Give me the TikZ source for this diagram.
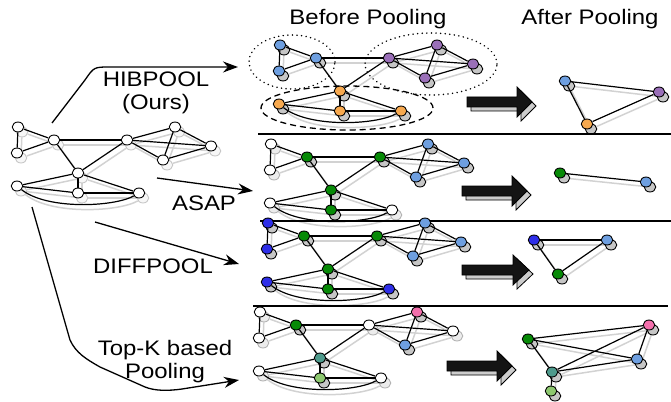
\documentclass[tikz,border=0pt]{standalone}
\usepackage{fontspec}
\usepackage{graphicx}
\setmainfont{Liberation Sans}
\usetikzlibrary{shapes.geometric,arrows.meta}
\pgfdeclarelayer{shedge}
\pgfdeclarelayer{shnode}
\pgfdeclarelayer{edge}
\pgfsetlayers{shedge,shnode,edge,main}
\definecolor{cLB}{HTML}{6E9FE0}
\definecolor{cP}{HTML}{9A6FB8}
\definecolor{cO}{HTML}{F7A94F}
\definecolor{cG}{HTML}{078A07}
\definecolor{cDB}{HTML}{2E2EE8}
\definecolor{cPK}{HTML}{F36FAC}
\definecolor{cT}{HTML}{4E9A8C}
\definecolor{cLG}{HTML}{8DC86F}
\newcommand\sx[1]{\scalebox{1.14}[1]{#1}}
\def\tx{{18,17,54,127,175,211,163,78,17,78,139}}
\def\ty{{127,153,140,140,127,146,160,173,186,193,193}}
\def\tedges{1/2,1/3,2/3,3/4,3/8,4/8,4/5,4/6,4/7,5/6,5/7,6/7,8/9,8/10,8/11,9/10,10/11}
\tikzset{
  gnode/.style={ellipse,draw=black,line width=0.9pt,minimum width=11.5pt,minimum height=10pt,inner sep=0pt},
  gedge/.style={draw=black,line width=1.2pt},
  shline/.style={draw=gray!35,line width=1.5pt},
  lbl/.style={font=\fontsize{21}{23}\selectfont,align=center,inner sep=0pt},
  arr/.style={draw=black,line width=1.3pt,-{Stealth[length=15pt,width=11pt]}},
  sep/.style={draw=black,line width=1.1pt}
}
\newcommand\tgraph[2]{%
  \foreach \i/\c/\sf/\sd in {#2}{%
    \pgfmathsetmacro\x{\tx[\i-1]}%
    \pgfmathsetmacro\y{\ty[\i-1]}%
    \begin{pgfonlayer}{shnode}
      \node[gnode,fill=\sf,draw=\sd] (#1s\i) at (\x+4,\y+5) {};
    \end{pgfonlayer}
    \node[gnode,fill=\c] (#1\i) at (\x,\y) {};
  }%
  \begin{pgfonlayer}{shedge}
    \foreach \a/\b in \tedges {\draw[shline] (#1s\a) -- (#1s\b);}
    \draw[shline] (#1s9) .. controls +(30,24) and +(-25,14) .. (#1s11);
  \end{pgfonlayer}
  \begin{pgfonlayer}{edge}
    \foreach \a/\b in \tedges {\draw[gedge] (#1\a) -- (#1\b);}
    \draw[gedge] (#19) .. controls +(30,24) and +(-25,14) .. (#111);
  \end{pgfonlayer}
}
\newcommand\agraph[3]{%
  \foreach \i/\x/\y/\c in {#2}{%
    \begin{pgfonlayer}{shnode}
      \node[gnode,fill=gray!45] (#1s\i) at (\x+4,\y+5) {};
    \end{pgfonlayer}
    \node[gnode,fill=\c] (#1\i) at (\x,\y) {};
  }%
  \begin{pgfonlayer}{shedge}
    \foreach \a/\b in {#3} {\draw[shline] (#1s\a) -- (#1s\b);}
  \end{pgfonlayer}
  \begin{pgfonlayer}{edge}
    \foreach \a/\b in {#3} {\draw[gedge] (#1\a) -- (#1\b);}
  \end{pgfonlayer}
}
\newcommand\fatarrow[4]{%
  \filldraw[fill=gray!40,draw=black,line width=0.8pt,shift={(4,4)}]
    (#1,#2-5) -- (#3,#2-5) -- (#3,#2-15) -- (#4,#2) -- (#3,#2+15) -- (#3,#2+5) -- (#1,#2+5) -- cycle;
  \filldraw[fill=black!92,draw=black,line width=0.8pt]
    (#1,#2-5) -- (#3,#2-5) -- (#3,#2-15) -- (#4,#2) -- (#3,#2+15) -- (#3,#2+5) -- (#1,#2+5) -- cycle;
}
\begin{document}
\begin{tikzpicture}[x=1pt,y=-1pt]
\useasboundingbox (0,0) rectangle (671,401);

% titles
\node[lbl] (tbefore) at (368,19) {\sx{Before Pooling}};
\node[lbl] (tafter) at (590,19) {\sx{After Pooling}};

% separators
\coordinate (s1a) at (258,134); \coordinate (s1b) at (671,134);
\coordinate (s2a) at (260,221); \coordinate (s2b) at (671,221);
\coordinate (s3a) at (253,306); \coordinate (s3b) at (668,306);
\draw[sep] (s1a) -- (s1b);
\draw[sep] (s2a) -- (s2b);
\draw[sep] (s3a) -- (s3b);

% input graph
\tgraph{L}{1/white/gray!6/gray!45,2/white/gray!6/gray!45,3/white/gray!6/gray!45,4/white/gray!6/gray!45,5/white/gray!6/gray!45,6/white/gray!6/gray!45,7/white/gray!6/gray!45,8/white/gray!6/gray!45,9/white/gray!6/gray!45,10/white/gray!6/gray!45,11/white/gray!6/gray!45}

% row 1
\begin{scope}[shift={(262,-82)}]
\tgraph{A}{1/cLB/gray!45/black,2/cLB/gray!45/black,3/cLB/gray!45/black,4/cP/gray!45/black,5/cP/gray!45/black,6/cP/gray!45/black,7/cP/gray!45/black,8/cO/gray!45/black,9/cO/gray!45/black,10/cO/gray!45/black,11/cO/gray!45/black}
\end{scope}
\draw[line width=1.6pt,line cap=round,dash pattern=on 0.1pt off 4.5pt] (292,62) ellipse [x radius=43pt,y radius=27pt];
\draw[line width=1.6pt,line cap=round,dash pattern=on 0.1pt off 4.5pt] (431,64) ellipse [x radius=66pt,y radius=31pt];
\draw[line width=1.3pt,dash pattern=on 6pt off 4pt] (347,108) ellipse [x radius=86pt,y radius=22pt];

% row 2
\begin{scope}[shift={(253,17)}]
\tgraph{B}{1/white/gray!15/gray!60,2/white/gray!15/gray!60,3/cG/gray!45/black,4/cG/gray!45/black,5/cLB/gray!45/black,6/cLB/gray!45/black,7/cLB/gray!45/black,8/cG/gray!45/black,9/white/gray!15/gray!60,10/cG/gray!45/black,11/white/gray!15/gray!60}
\end{scope}

% row 3
\begin{scope}[shift={(250,96)}]
\tgraph{C}{1/cDB/gray!45/black,2/cDB/gray!45/black,3/cG/gray!45/black,4/cG/gray!45/black,5/cLB/gray!45/black,6/cLB/gray!45/black,7/cLB/gray!45/black,8/cG/gray!45/black,9/cDB/gray!45/black,10/cG/gray!45/black,11/cDB/gray!45/black}
\end{scope}

% row 4
\begin{scope}[shift={(242,185)}]
\tgraph{D}{1/white/gray!15/gray!60,2/white/gray!15/gray!60,3/cG/gray!45/black,4/white/gray!15/gray!60,5/cPK/gray!45/black,6/white/gray!15/gray!60,7/cLB/gray!45/black,8/cT/gray!45/black,9/white/gray!15/gray!60,10/cLG/gray!45/black,11/white/gray!15/gray!60}
\end{scope}

% after pooling graphs
\agraph{P}{1/565/81/cLB,2/659/92/cP,3/587/124/cO}{1/2,2/3,1/3}
\agraph{Q}{1/560/173/cG,2/646/182/cLB}{1/2}
\agraph{R}{1/534/240/cDB,2/607/240/cLB,3/558/274/cG}{1/2,2/3,1/3}
\agraph{S}{1/528/339/cG,2/649/325/cPK,3/637/359/cLB,4/552/372/cT,5/551/391/cLG}{1/2,1/3,1/4,4/2,4/3,2/3,4/5}

% fat arrows
\fatarrow{467}{102}{517}{532}
\fatarrow{462}{191}{512}{527}
\fatarrow{462}{270}{513}{529}
\fatarrow{447}{366}{497}{512}

% method arrows and labels
\node[lbl] (thib) at (156,93) {\sx{HIBPOOL}\\\sx{(Ours)}};
\node[lbl] (tasap) at (204,203) {\sx{ASAP}};
\node[lbl] (tdiff) at (153,266) {\sx{DIFFPOOL}};
\node[lbl] (ttopk) at (165,362) {\sx{Top-K based}\\\sx{Pooling}};

\coordinate (h0) at (52,123); \coordinate (h1) at (238,67);
\coordinate (a0) at (157,178); \coordinate (a1) at (253,191);
\coordinate (d0) at (95,222); \coordinate (d1) at (239,264);
\coordinate (k0) at (32,207); \coordinate (k1) at (239,380);
\draw[arr] (h0) -- (85,80) .. controls (94,67) .. (110,67) -- (h1);
\draw[arr] (a0) -- (a1);
\draw[arr] (d0) -- (d1);
\draw[arr] (k0) -- (70,340) .. controls (76,353) and (86,359) .. (100,367) -- (145,387) .. controls (155,391) and (168,391) .. (182,389) -- (k1);
\end{tikzpicture}
\end{document}
